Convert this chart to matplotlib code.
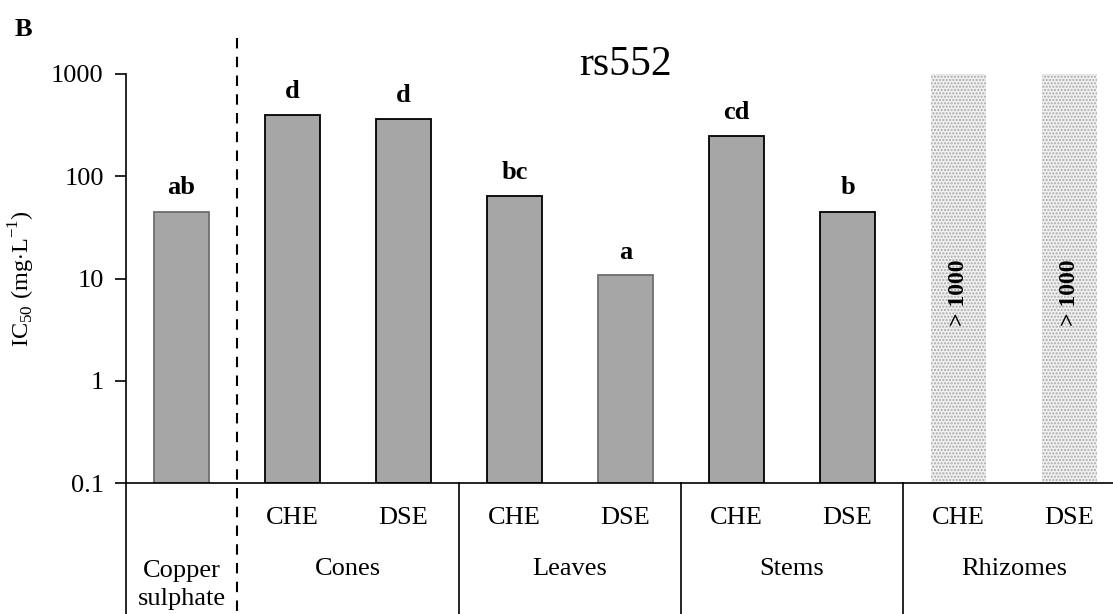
import numpy as np
import matplotlib.pyplot as plt
import matplotlib.transforms as mtransforms

plt.rcParams['font.family'] = ['Liberation Serif', 'DejaVu Serif']
plt.rcParams['mathtext.fontset'] = 'custom'
plt.rcParams['mathtext.rm'] = 'Liberation Serif'

# ===データ===
extracts = ["", "CHE", "DSE", "CHE", "DSE", "CHE", "DSE", "CHE", "DSE"]
groups = ["Copper\nsulphate", "Cones", "Leaves", "Stems", "Rhizomes"]
group_span = [(0, 0), (1, 2), (3, 4), (5, 6), (7, 8)]
ic50 = [45, 395, 362, 64, 10.6, 248, 45, 1000, 1000]
letters = ["ab", "d", "d", "bc", "a", "cd", "b", "", ""]
above_limit = [False, False, False, False, False, False, False, True, True]
edge_gray = [True, False, False, False, True, False, False, False, False]

fig = plt.figure(figsize=(11.13, 6.14), dpi=100)
ax = fig.add_axes([126/1113, 131/614, 999/1113, 409/614])
x = np.arange(len(ic50))

for i in x:
    if above_limit[i]:
        ax.bar(i, ic50[i], width=0.5, bottom=0.1, facecolor='#f0f0f0',
               edgecolor='#a8a8a8', hatch='.....', linewidth=0)
        ax.text(i, 7.2, "> 1000", rotation=90, ha='center', va='center',
                fontsize=17, fontweight='bold')
    else:
        ec = '#6e6e6e' if edge_gray[i] else 'black'
        ax.bar(i, ic50[i], width=0.5, bottom=0.1, color='#a6a6a6',
               edgecolor=ec, linewidth=1.3)
        ax.text(i, ic50[i] * 1.32, letters[i], ha='center', va='bottom',
                fontsize=19, fontweight='bold')

ax.set_yscale('log')
ax.set_ylim(0.1, 1000)
ax.set_xlim(-0.5, 8.5)
ax.set_yticks([0.1, 1, 10, 100, 1000])
ax.set_yticklabels(["0.1", "1", "10", "100", "1000"])
ax.minorticks_off()
ax.tick_params(axis='y', length=8, width=1.2, labelsize=19, pad=8)
ax.set_xticks([])
for s in ['top', 'right']:
    ax.spines[s].set_visible(False)
ax.spines['left'].set_linewidth(1.2)
ax.spines['bottom'].set_linewidth(1.2)
ax.set_ylabel(r"IC$_{50}$ (mg$\cdot$L$^{-1}$)", fontsize=17.5)
ax.yaxis.set_label_coords(-0.089, 0.5)

ax.text(0.5, 1.022, "rs552", transform=ax.transAxes, ha='center',
        va='center', fontsize=30)
fig.text(15/1113, 1 - 29/614, "B", fontsize=19, fontweight='bold',
         va='center')

# ===下の表===
tr = mtransforms.blended_transform_factory(ax.transData, ax.transAxes)
y_low = -131/409
for b in [-0.5, 2.5, 4.5, 6.5]:
    ax.plot([b, b], [0, y_low], transform=tr, color='black', lw=1.2,
            clip_on=False)
ax.plot([0.5, 0.5], [(483-38)/409, y_low], transform=tr, color='black',
        lw=1.5, ls=(0, (5, 4)), clip_on=False)

for i in x:
    if extracts[i]:
        ax.text(i, -35/409, extracts[i], transform=tr, ha='center',
                va='center', fontsize=19)
for g, (a, b) in zip(groups, group_span):
    yy = -86/409 if "\n" not in g else -102/409
    ax.text((a + b) / 2, yy, g, transform=tr, ha='center', va='center',
            fontsize=19, linespacing=1.35)

fig.savefig("out.png", dpi=100)
